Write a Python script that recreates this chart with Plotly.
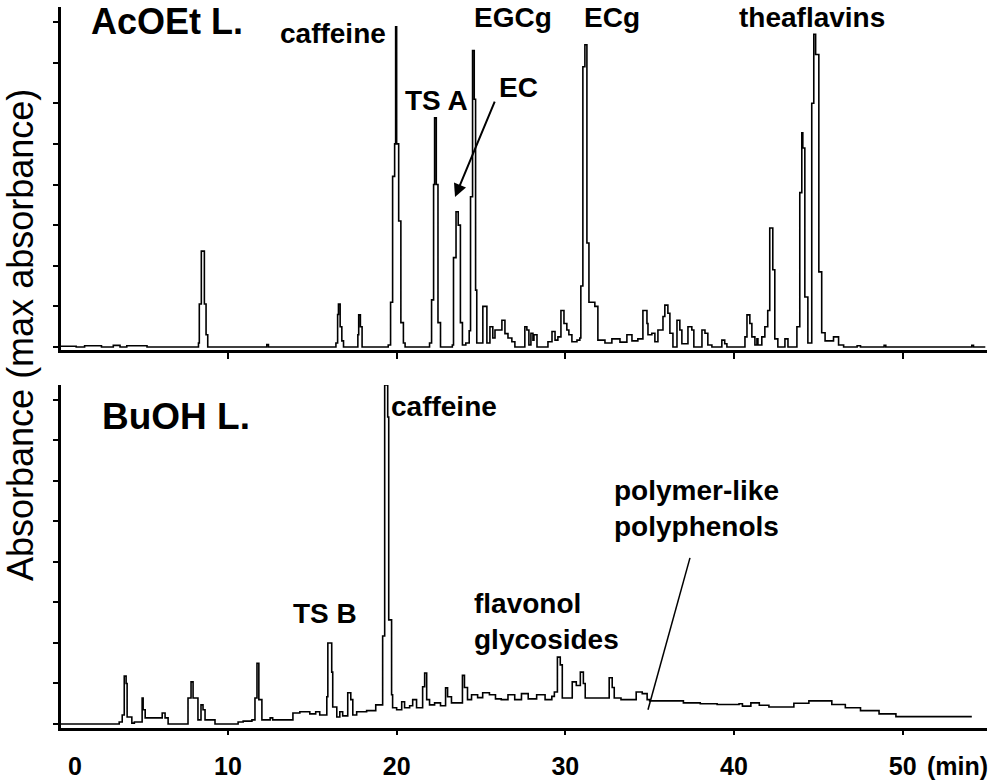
import plotly.graph_objects as go
from plotly.subplots import make_subplots

# Retention time (min) and absorbance (tick units)
acoet_time = [0.0, 1.0, 1.5, 2.5, 3.2, 3.6, 4.0, 5.2,
              8.25, 8.3, 8.42, 8.6, 8.7, 8.8, 12.3, 12.4,
              16.4, 16.5, 16.55, 16.65, 16.75, 16.85, 17.7, 17.75, 17.85, 17.95,
              19.5, 19.64, 19.76, 19.88, 19.94, 20.0, 20.12, 20.25, 20.4, 20.5,
              21.95, 22.07, 22.19, 22.25, 22.35, 22.45, 22.6,
              23.3, 23.37, 23.52, 23.65, 23.78, 23.9, 24.1,
              24.3, 24.38, 24.5, 24.6, 24.68,
              24.75, 25.11, 25.35, 25.53, 25.7, 25.83, 26.24, 26.42, 26.6, 26.83, 27.01,
              27.6, 27.72, 27.84, 27.96, 28.08, 28.14, 28.32, 28.97, 29.21, 29.39, 29.56,
              29.74, 29.92, 30.09, 30.21, 30.39, 30.69, 30.86,
              30.92, 31.04, 31.16, 31.28, 31.4, 31.75, 31.93,
              32.35, 32.76, 33.24, 33.65, 33.95, 34.3,
              34.6, 34.84, 34.9, 35.13, 35.31, 35.49, 35.79, 35.9, 36.08, 36.2, 36.38,
              36.62, 36.79, 36.91, 37.27, 37.5, 37.62, 38.1, 38.28, 38.45, 38.69,
              39.28, 39.45, 39.58,
              40.65, 40.77, 40.94, 41.06, 41.24, 41.36, 41.42, 41.65, 41.83, 42.0,
              42.12, 42.3, 42.42, 42.6, 43.02, 43.2, 43.73,
              43.9, 44.02, 44.08, 44.2, 44.38, 44.61, 44.73, 44.84, 45.03, 45.2,
              45.4, 45.9, 46.2, 46.5, 47.3, 47.5, 48.9, 49.0, 54.1, 54.2, 54.9]
acoet_abs = [0.02, 0.0, 0.03, 0.0, 0.04, 0.0, 0.03, 0.0,
             0.1, 1.06, 2.36, 1.06, 0.3, 0.0, 0.06, 0.0,
             0.1, 0.8, 1.06, 0.5, 0.15, 0.0, 0.3, 0.79, 0.5, 0.0,
             0.05, 1.1, 4.2, 5.0, 7.88, 5.0, 3.1, 0.6, 0.1, 0.0,
             0.1, 1.16, 4.0, 5.64, 4.0, 0.6, 0.0,
             0.05, 2.2, 3.33, 3.0, 0.6, 0.05, 0.1,
             0.4, 3.7, 7.3, 6.1, 1.4,
             0.1, 1.0, 0.1, 0.5, 0.22, 0.42, 0.66, 0.33, 0.22, 0.13, 0.0,
             0.5, 0.42, 0.05, 0.34, 0.17, 0.3, 0.0, 0.13, 0.38, 0.17, 0.25,
             0.9, 0.58, 0.42, 0.3, 0.13, 0.17, 0.22,
             1.5, 6.9, 7.44, 2.56, 1.1, 1.0, 0.17,
             0.1, 0.2, 0.12, 0.3, 0.15, 0.2,
             0.9, 0.58, 0.3, 0.34, 0.13, 0.42, 0.75, 1.03, 0.83, 0.34, 0.0,
             0.66, 0.42, 0.08, 0.5, 0.42, 0.0, 0.42, 0.34, 0.05, 0.0,
             0.17, 0.08, 0.0,
             0.25, 0.79, 0.58, 0.25, 0.05, 0.2, 0.05, 0.25, 0.5, 0.9,
             2.93, 1.9, 0.2, 0.0, 0.2, 0.0, 0.5,
             3.8, 5.27, 4.9, 1.23, 0.1, 6.0, 7.7, 7.2, 1.85, 0.35,
             0.15, 0.25, 0.05, 0.0, 0.03, 0.0, 0.04, 0.0, 0.04, 0.0, 0.0]

buoh_time = [0.0, 3.55, 3.73, 3.85, 3.96, 4.02, 4.3, 4.45, 4.91, 4.97, 5.09, 6.1, 6.27, 6.45,
             7.5, 7.63, 7.81, 7.93, 8.22, 8.4, 8.52, 8.64, 9.23,
             10.6, 10.9, 11.42, 11.6, 11.72, 11.83, 12.01, 12.5, 12.65,
             13.85, 14.26, 14.85, 15.2, 15.44,
             15.86, 15.92, 16.15, 16.21, 16.45, 16.63, 16.8, 17.1, 17.28, 17.4, 17.63, 18.22, 18.76,
             19.17, 19.29, 19.47, 19.53, 19.7, 19.76,
             20.0, 20.3, 20.47, 20.77, 20.95, 21.18,
             21.54, 21.66, 21.78, 21.95, 22.25, 22.6,
             22.9, 23.02, 23.25, 23.9, 24.02, 24.2, 24.44, 24.8, 25.1, 25.5, 25.86,
             26.2, 26.6, 27.0, 27.4, 27.8, 28.3, 28.8, 29.2,
             29.35, 29.53, 29.7, 29.82,
             30.41, 30.65, 30.89, 31.07, 31.18,
             32.6, 32.78, 32.9, 33.3, 34.2, 34.56, 34.85,
             35.0, 37.0, 38.0, 39.0, 40.3, 40.5, 41.0, 41.5, 42.07, 43.55, 44.44,
             45.8, 46.6, 47.5, 48.6, 49.6, 54.1]
buoh_abs = [0.0, 0.05, 0.22, 1.18, 1.0, 0.17, 0.02, 0.05, 0.64, 0.35, 0.15, 0.27, 0.15, 0.0,
            0.0, 0.64, 1.04, 0.64, 0.1, 0.47, 0.35, 0.1, 0.0,
            0.05, 0.07, 0.1, 0.64, 1.5, 0.6, 0.1, 0.15, 0.1,
            0.27, 0.3, 0.25, 0.3, 0.22,
            0.67, 2.0, 1.28, 0.42, 0.17, 0.3, 0.2, 0.77, 0.6, 0.22, 0.3, 0.33, 0.47,
            2.17, 8.37, 7.58, 2.57, 0.72, 0.4,
            0.35, 0.55, 0.4, 0.45, 0.6, 0.4,
            0.92, 1.26, 0.6, 0.47, 0.52, 0.45,
            0.89, 0.67, 0.52, 1.2, 0.9, 0.6, 0.72, 0.65, 0.77, 0.72, 0.62,
            0.6, 0.72, 0.6, 0.75, 0.62, 0.72, 0.6, 0.68,
            0.79, 1.65, 1.46, 0.64,
            1.04, 0.95, 1.28, 1.0, 0.64,
            1.14, 0.9, 0.64, 0.6, 0.79, 0.75, 0.6,
            0.57, 0.52, 0.5, 0.48, 0.5, 0.44, 0.52, 0.46, 0.42, 0.51, 0.57,
            0.48, 0.4, 0.33, 0.25, 0.18, 0.18]

x_ticks = [10, 20, 30, 40, 50]
y_ticks = [0, 1, 2, 3, 4, 5, 6, 7, 8]

FONT = "Liberation Sans, Arial, sans-serif"
W, H = 1000, 782

fig = make_subplots(rows=2, cols=1, shared_xaxes=False, vertical_spacing=0.05)

fig.add_trace(go.Scatter(x=acoet_time, y=acoet_abs, mode="lines", line_shape="hv",
                         line=dict(color="black", width=1.6)), row=1, col=1)
fig.add_trace(go.Scatter(x=buoh_time, y=buoh_abs, mode="lines", line_shape="hv",
                         line=dict(color="black", width=1.6)), row=2, col=1)

axis_common = dict(showgrid=False, zeroline=False, showline=True, linecolor="black",
                   linewidth=2.5, ticks="outside", tickcolor="black", tickwidth=1.5)

fig.update_xaxes(range=[0.1, 55.0], tickvals=x_ticks, ticklen=6, **axis_common)
fig.update_xaxes(showticklabels=False, domain=[0.061, 0.987], row=1, col=1)
fig.update_xaxes(showticklabels=True, domain=[0.061, 0.987], ticklen=4,
                 tickfont=dict(family=FONT, size=25, color="black", weight="bold"),
                 ticklabelstandoff=10, row=2, col=1)

fig.update_yaxes(tickvals=y_ticks, showticklabels=False, ticklen=5, **axis_common)
fig.update_yaxes(range=[-0.074, 8.37], domain=[1 - 350 / H, 1 - 7 / H], row=1, col=1)
fig.update_yaxes(range=[-0.1, 8.37], domain=[1 - 728 / H, 1 - 385 / H], row=2, col=1)

def label(text, x, y, row, size=28, xanchor="center", align="center"):
    ref = "" if row == 1 else "2"
    fig.add_annotation(text=text, x=x, y=y, xref="x" + ref, yref="y" + ref,
                       showarrow=False, xanchor=xanchor, align=align,
                       font=dict(family=FONT, size=size, color="black", weight="bold"))

# upper panel
label("AcOEt L.", 6.38, 8.02, 1, size=36)
label("caffeine", 16.22, 7.71, 1)
label("TS A", 22.39, 6.08, 1)
label("EGCg", 26.89, 8.1, 1)
label("EC", 27.25, 6.4, 1)
label("ECg", 32.76, 8.1, 1)
label("theaflavins", 44.62, 8.1, 1)
fig.add_annotation(x=23.46, y=3.69, ax=25.85, ay=6.08, xref="x", yref="y",
                   axref="x", ayref="y", text="", showarrow=True,
                   arrowhead=2, arrowsize=1.3, arrowwidth=2, arrowcolor="black")

# lower panel
label("BuOH L.", 6.92, 7.6, 2, size=37)
label("caffeine", 19.54, 7.83, 2, xanchor="left")
label("TS B", 15.75, 2.73, 2)
label("flavonol<br>glycosides", 24.46, 2.52, 2, xanchor="left", align="left")
label("polymer-like<br>polyphenols", 32.76, 5.31, 2, xanchor="left", align="left")
fig.add_shape(type="line", x0=37.39, y0=4.1, x1=34.9, y1=0.35, xref="x2", yref="y2",
              line=dict(color="black", width=1.5))

# "0" and unit label under the time axis
fig.add_annotation(text="0", x=0.95, y=1 - 766 / H, xref="x2", yref="paper", showarrow=False,
                   yanchor="middle",
                   font=dict(family=FONT, size=25, color="black", weight="bold"))
fig.add_annotation(text="(min)", x=51.3, y=1 - 766 / H, xref="x2", yref="paper",
                   xanchor="left", yanchor="middle", showarrow=False,
                   font=dict(family=FONT, size=25, color="black", weight="bold"))

fig.add_annotation(text="Absorbance (max absorbance)", x=20 / W, y=1 - 335 / H,
                   xref="paper", yref="paper", textangle=-90, showarrow=False,
                   xanchor="center", yanchor="middle",
                   font=dict(family=FONT, size=36, color="black"))

fig.update_layout(width=W, height=H, margin=dict(l=0, r=0, t=0, b=0),
                  plot_bgcolor="white", paper_bgcolor="white", showlegend=False)

fig.write_html("out.html", config={"displayModeBar": False},
               post_script="document.body.style.margin='0px';")
